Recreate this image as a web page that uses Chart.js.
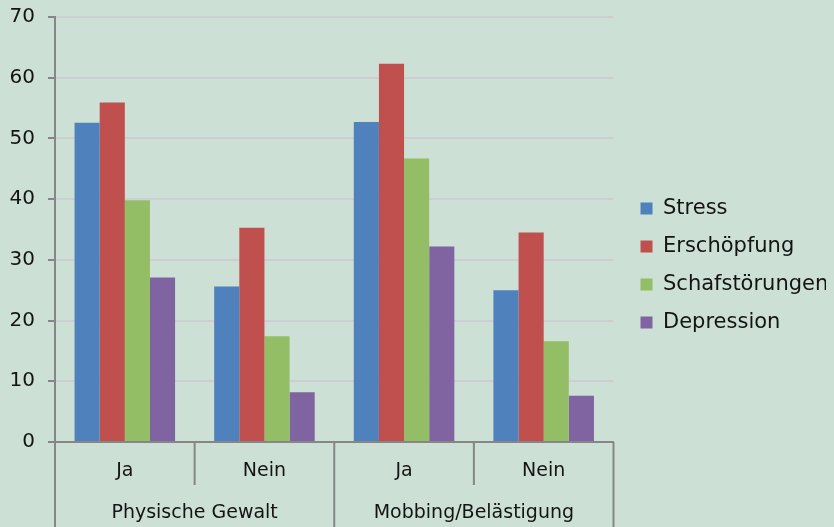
<!DOCTYPE html>
<html>
<head>
<meta charset="utf-8">
<script src="https://cdn.jsdelivr.net/npm/chart.js@4"></script>
<style>
  body { margin: 0; background: #cde0d5; }
  #wrap { width: 834px; height: 527px; }
</style>
</head>
<body>
<div id="wrap"><canvas id="myChart" width="834" height="527"></canvas></div>
<script>
const answers = ['Ja', 'Nein', 'Ja', 'Nein']
const groups = ['Physische Gewalt', 'Mobbing/Belästigung']
const stress = [52.6, 25.6, 52.7, 25.0]
const erschoepfung = [55.9, 35.3, 62.3, 34.5]
const schlaf = [39.8, 17.4, 46.7, 16.6]
const depression = [27.1, 8.2, 32.2, 7.6]
const yTicks = [0, 10, 20, 30, 40, 50, 60, 70]

const font = { family: 'DejaVu Sans', size: 19 }
const textColor = '#141414'
const axisGray = '#868686'

// vertical dividers of the two-level category axis
const dividers = {
  id: 'dividers',
  afterDraw(chart) {
    const ctx = chart.ctx
    const x = chart.scales.x
    const area = chart.chartArea
    const step = (x.getPixelForValue(1) - x.getPixelForValue(0))
    ctx.save()
    ctx.strokeStyle = axisGray
    ctx.lineWidth = 2
    for (let i = 0; i <= answers.length; i++) {
      const px = x.getPixelForValue(0) - step / 2 + i * step
      const bottom = i % 2 === 0 ? chart.height : area.bottom + 43
      ctx.beginPath()
      ctx.moveTo(px, area.bottom)
      ctx.lineTo(px, bottom)
      ctx.stroke()
    }
    ctx.restore()
  }
}

// push the legend items a little to the right of the plot
const legendShift = {
  id: 'legendShift',
  afterLayout(chart) {
    chart.legend.left += 10
    chart.legend.right += 10
  }
}

const makeSet = (label, data, color) => ({
  label: label,
  data: data,
  backgroundColor: color,
  borderWidth: 0,
  xAxisID: 'x'
})

const config = {
  type: 'bar',
  data: {
    labels: answers,
    datasets: [
      makeSet('Stress', stress, '#4f81bd'),
      makeSet('Erschöpfung', erschoepfung, '#c0504d'),
      makeSet('Schafstörungen', schlaf, '#93be65'),
      makeSet('Depression', depression, '#8064a2')
    ]
  },
  options: {
    responsive: false,
    animation: false,
    layout: { padding: { top: 4, left: 6, right: 18, bottom: 0 } },
    datasets: { bar: { categoryPercentage: 0.72, barPercentage: 1 } },
    plugins: {
      tooltip: { enabled: false },
      legend: {
        position: 'right',
        labels: {
          font: { family: 'DejaVu Sans', size: 21 },
          color: textColor,
          boxWidth: 12,
          boxHeight: 12,
          padding: 17
        }
      }
    },
    scales: {
      x: {
        grid: { display: false, drawTicks: false },
        border: { color: axisGray, width: 2 },
        afterFit: s => { s.height = 41 },
        ticks: { font: font, color: textColor, padding: 18 }
      },
      x2: {
        type: 'category',
        labels: groups,
        position: 'bottom',
        grid: { display: false, drawTicks: false },
        border: { display: false },
        afterFit: s => { s.height = 44 },
        ticks: { font: font, color: textColor, padding: 19 }
      },
      y: {
        min: 0,
        max: 70,
        afterBuildTicks: axis => { axis.ticks = yTicks.map(v => ({ value: v })) },
        afterFit: s => { s.width = 49; s.paddingTop = 17 },
        grid: { color: '#cdced3', lineWidth: 2, tickColor: axisGray, tickLength: 7 },
        border: { color: axisGray, width: 2 },
        ticks: { font: { family: 'DejaVu Sans', size: 20 }, color: textColor, padding: 13 }
      }
    }
  },
  plugins: [dividers, legendShift]
}

const myChart = new Chart(document.getElementById('myChart'), config)
</script>
</body>
</html>
